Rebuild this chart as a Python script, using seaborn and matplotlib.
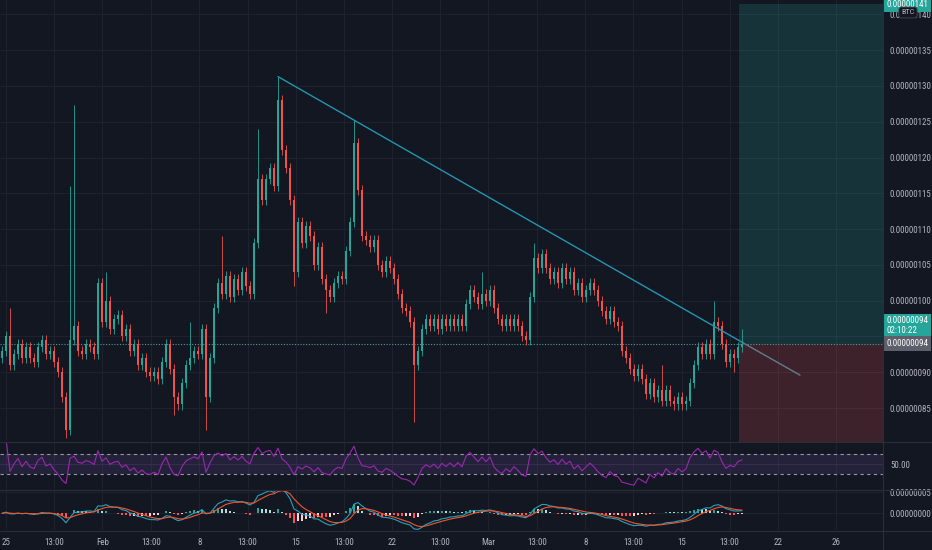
import matplotlib
matplotlib.use("Agg")
import matplotlib.pyplot as plt
import matplotlib.transforms as mtrans
from matplotlib import font_manager
import numpy as np
import pandas as pd
import seaborn as sns

BG = "#131722"
GRID = "#1f2330"
TXT = "#b2b5be"
UP = "#26a69a"
DOWN = "#ef5350"

# candle closes in satoshi (1e-8 BTC), one per bar
close = [93, 95, 91, 92.5, 94, 92, 93.5, 92, 91.5, 93.5,
         94.5, 92.5, 93, 91.5, 90, 86.5, 82, 94.5, 96.5, 93,
         92.5, 94, 93.5, 92.5, 102.5, 97, 100, 96, 97.5, 98,
         95, 96, 93, 94, 91, 92, 90, 89.5, 90, 89,
         91.5, 94, 90.5, 86.5, 85.5, 88.5, 91, 92, 93, 92.5,
         96, 86.5, 92, 99, 102.5, 101, 103.5, 100.5, 103, 101.5,
         104, 102, 101, 108, 117, 114, 117, 118.5, 116, 128,
         121, 118.5, 114, 104, 111, 108, 110.5, 109, 105, 107.5,
         103, 101.5, 100.5, 102.5, 103.5, 103, 107, 111, 122, 115.5,
         109, 108.5, 107.5, 108.5, 105, 104, 105.5, 104.5, 103, 101,
         99, 98.5, 97, 91, 93, 96, 97.5, 96.5, 97.5, 96,
         97.5, 96.5, 97.5, 96.5, 97.5, 96.5, 99.5, 101.5, 100.5, 99.5,
         101, 100, 101.5, 99, 97.5, 96.5, 97.5, 96.5, 97.5, 96.5,
         95, 94.5, 100.5, 106, 104.5, 106.5, 104.5, 103, 104, 102.5,
         104.5, 103, 104, 101.5, 102.5, 100.5, 101.5, 102.5, 101.5, 100,
         98.5, 97.5, 98.5, 97, 96.5, 93, 92, 90.5, 89.5, 90.5,
         89, 87, 88.5, 86.5, 87.5, 86, 87.5, 86, 85.5, 86.5,
         85.5, 86, 88.5, 91, 93.5, 92.5, 94, 92.5, 97, 96.5,
         94, 91.5, 92.5, 92, 93.5, 94]
first_open = 92

# long wicks (bar index -> price)
wick_high = {2: 99, 17: 116, 18: 127.3, 26: 104, 47: 97, 55: 109, 64: 124,
             69: 131.3, 88: 125.3, 120: 104, 133: 108, 165: 91, 178: 100, 185: 96}
wick_low = {16: 80.8, 43: 84, 51: 82, 73: 102, 81: 98.3, 103: 83, 183: 90}

# trend line drawn on the chart
trend_x = [69, 185.3]
trend_y = [131.3, 94.1]
ext_x = [185.3, 199.5]
ext_y = [94.1, 89.6]

# long position tool
entry_price = 94
target_price = 141
stop_price = 80

tick_pos = [1, 13.1, 25.1, 37.2, 49.3, 61.4, 73.4, 85.5, 97.5, 109.6,
            121.6, 133.7, 145.8, 157.8, 169.9, 181.9, 194, 208.5]
tick_labels = ["25", "13:00", "Feb", "13:00", "8", "13:00", "15", "13:00", "22",
               "13:00", "Mar", "13:00", "8", "13:00", "15", "13:00", "22", "26"]
price_ticks = [85, 90, 95, 100, 105, 110, 115, 120, 125, 130, 135, 140]
hidden_price_labels = [95]  # covered by the last-price tags

sns.set_theme(style="dark", rc={
    "axes.facecolor": BG, "figure.facecolor": BG, "savefig.facecolor": BG,
    "axes.edgecolor": BG, "grid.color": GRID, "xtick.color": TXT, "ytick.color": TXT,
})
installed = {f.name for f in font_manager.fontManager.ttflist}
FONT, FS = "Roboto", 5.6
for name in ["Liberation Sans Narrow", "Roboto Condensed", "DejaVu Sans Condensed"]:
    if name in installed:
        FONT, FS = name, 6.5
        break
plt.rcParams["font.family"] = [FONT, "DejaVu Sans"]

W, H = 932, 550
RIGHT = 883


def px_box(top, bottom, left=0, right=RIGHT):
    return [left / W, 1 - bottom / H, (right - left) / W, (bottom - top) / H]


df = pd.DataFrame({"close": close})
df["open"] = [first_open] + close[:-1]
df["x"] = np.arange(len(df))
df["high"] = df[["open", "close"]].max(axis=1) + 0.7
df["low"] = df[["open", "close"]].min(axis=1) - 0.7
for k, v in wick_high.items():
    df.loc[k, "high"] = v
for k, v in wick_low.items():
    df.loc[k, "low"] = v

# indicators (short lengths, bars here are coarser than on the chart)
delta = df["close"] - df["open"]
gain = delta.clip(lower=0).ewm(alpha=1 / 5, adjust=True).mean()
loss = (-delta.clip(upper=0)).ewm(alpha=1 / 5, adjust=True).mean()
df["rsi"] = 100 - 100 / (1 + gain / loss)
df["macd"] = df["close"].ewm(span=6, adjust=False).mean() - df["close"].ewm(span=13, adjust=False).mean()
df["signal"] = df["macd"].ewm(span=5, adjust=False).mean()
df["hist"] = df["macd"] - df["signal"]
prev = df["hist"].shift(1).fillna(0)
hist_col = np.where(df["hist"] >= 0,
                    np.where(df["hist"] >= prev, "#26a69a", "#b2dfdb"),
                    np.where(df["hist"] < prev, "#ff5252", "#ffcdd2"))

fig = plt.figure(figsize=(W / 100, H / 100), dpi=100)
ax = fig.add_axes(px_box(0, 441))
ax_rsi = fig.add_axes(px_box(442, 489))
ax_macd = fig.add_axes(px_box(490, 530))
xlim = (-0.5, 220.25)

for a in (ax, ax_rsi, ax_macd):
    a.set_xlim(*xlim)
    a.set_xticks(tick_pos)
    a.grid(True, color=GRID, lw=0.7)
    a.yaxis.tick_right()
    a.tick_params(length=0, labelsize=FS, colors=TXT, pad=5)
    for s in a.spines.values():
        s.set_visible(False)

# main price panel
ax.set_ylim(80.4, 142.0)
ax.set_yticks(price_ticks)
ax.set_yticklabels(["" if v in hidden_price_labels else f"{v * 1e-8:.8f}" for v in price_ticks])
ax.tick_params(axis="x", labelbottom=False)

last_x = df["x"].iloc[-1]
ax.fill_between([last_x - 0.7, xlim[1]], entry_price, target_price + 0.4, color=UP, alpha=0.2, lw=0)
ax.fill_between([last_x - 0.7, xlim[1]], stop_price, entry_price, color=DOWN, alpha=0.2, lw=0)
ax.axhline(df["close"].iloc[-1], color="#4f9a96", lw=0.8, ls=(0, (1, 1.5)))

cols = np.where(df["close"] >= df["open"], UP, DOWN)
ax.vlines(df["x"], df["low"], df["high"], colors=cols, lw=0.6)
ax.bar(df["x"], np.maximum((df["close"] - df["open"]).abs(), 0.3),
       bottom=df[["open", "close"]].min(axis=1), width=0.72, color=cols, lw=0)

ax.plot(trend_x, trend_y, color="#2196b0", lw=1.0)
ax.plot(ext_x, ext_y, color="#607d8b", lw=1.0)

# RSI panel
ax_rsi.set_ylim(0.6, 94.6)
ax_rsi.axhspan(30, 70, color="#7e57c2", alpha=0.16, lw=0)
ax_rsi.axhline(70, color="#9598a1", lw=0.8, ls=(0, (3, 3)))
ax_rsi.axhline(30, color="#9598a1", lw=0.8, ls=(0, (3, 3)))
ax_rsi.axhline(50, color="#3a3150", lw=0.6)
sns.lineplot(data=df, x="x", y="rsi", ax=ax_rsi, color="#9c27b0", lw=0.8)
ax_rsi.set_yticks([50])
ax_rsi.set_yticklabels(["50.00"])
ax_rsi.grid(axis="y", visible=False)
ax_rsi.tick_params(axis="x", labelbottom=False)

# MACD panel
ax_macd.set_ylim(-3.92, 5.47)
ax_macd.bar(df["x"], df["hist"], width=0.6, color=hist_col, lw=0)
sns.lineplot(data=df, x="x", y="macd", ax=ax_macd, color="#2a9fb8", lw=0.8)
sns.lineplot(data=df, x="x", y="signal", ax=ax_macd, color="#f0552f", lw=0.8)
ax_macd.set_yticks([0, 5])
ax_macd.set_yticklabels([f"{v * 1e-8:.8f}" for v in [0, 5]])
ax_macd.set_xticklabels(tick_labels)
ax_macd.tick_params(axis="x", pad=6)

for a in (ax, ax_rsi, ax_macd):
    a.set_xlabel("")
    a.set_ylabel("")

# panel separators
for y in (441.5, 489.5, 530.5):
    fig.add_artist(plt.Line2D([0, 1], [1 - y / H] * 2, color="#2a2e39", lw=0.8))
fig.add_artist(plt.Line2D([RIGHT / W] * 2, [0, 1], color="#2a2e39", lw=0.8))

# right-hand price labels
tr = mtrans.blended_transform_factory(ax.transAxes, ax.transData)
ax.text(1.004, target_price + 0.4, f"{target_price * 1e-8:.8f}", transform=tr, ha="left", va="center",
        fontsize=FS, color="white", clip_on=False, zorder=5,
        bbox=dict(boxstyle="square,pad=0.3", fc=UP, ec="none"))
fig.text(908 / W, 1 - 12.5 / H, "BTC", ha="center", va="center", fontsize=FS - 0.6, color=TXT, zorder=6,
         bbox=dict(boxstyle="round,pad=0.3", fc=BG, ec="#434651", lw=0.6))
ax.text(1.004, entry_price + 2.5, f"{df['close'].iloc[-1] * 1e-8:.8f}\n02:10:22", transform=tr,
        ha="left", va="center", fontsize=FS, color="white", clip_on=False, zorder=5, linespacing=1.15,
        bbox=dict(boxstyle="square,pad=0.3", fc=UP, ec="none"))
ax.text(1.004, entry_price, f"{entry_price * 1e-8:.8f}", transform=tr, ha="left", va="center",
        fontsize=FS, color="white", clip_on=False, zorder=5,
        bbox=dict(boxstyle="square,pad=0.3", fc="#5d606b", ec="none"))

fig.savefig("out.png", dpi=100)
